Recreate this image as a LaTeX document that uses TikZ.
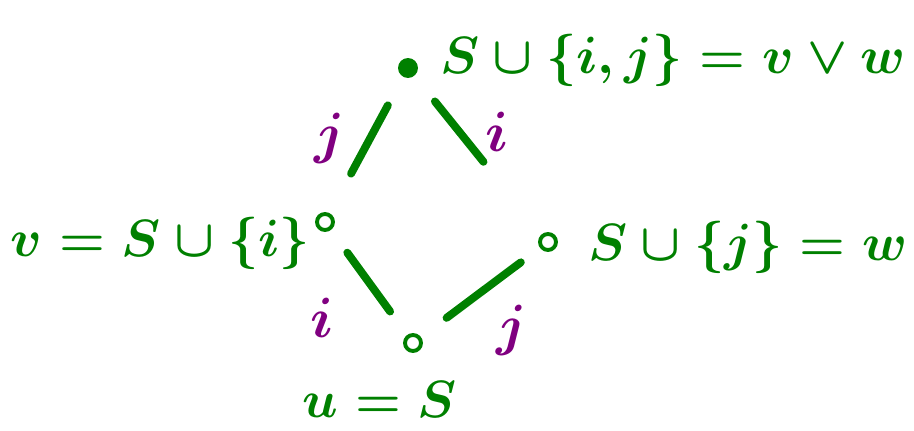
\documentclass[tikz,border=0pt]{standalone}
\usepackage{amsmath,amssymb}
\usepackage{graphicx}
\usepackage{tikz}
\definecolor{penGreen}{HTML}{008000}
\definecolor{penPurple}{HTML}{800080}
\newcommand{\penset}[1]{\scalebox{1.2}{$#1$}}
\newcommand{\penlab}[1]{\scalebox{1.3}{$#1$}}

\begin{document}
\begin{tikzpicture}[x=0.02cm,y=-0.02cm,
  pt/.style={draw=penGreen, line width=2.2pt, circle, inner sep=0pt, minimum size=3.2mm},
  ptf/.style={pt, fill=penGreen},
  set/.style={text=penGreen, font=\Huge\boldmath, inner sep=0pt},
  lab/.style={text=penPurple, font=\Huge\boldmath, inner sep=0pt},
  edge/.style={draw=penGreen, line width=4.5pt, line cap=round}]
\useasboundingbox (0,0) rectangle (914,431);
% the four sets
\node[ptf] (T) at (408,68)  {};
\node[pt]  (L) at (325,222) {};
\node[pt]  (R) at (548,242) {};
\node[pt]  (B) at (413,343) {};
% their names
\node[set, anchor=west] (TT) at (440,60)  {\penset{S\cup\{i,j\}=v\vee w}};
\node[set, anchor=east] (LT) at (310,243) {\penset{v=S\cup\{i\}}};
\node[set, anchor=west] (RT) at (588,247) {\penset{S\cup\{j\}=w}};
\node[set] (BT) at (380,400) {\penset{u=S}};
% covering relations
\draw[edge, shorten <=0.9cm, shorten >=0.65cm] (L) -- (T);
\draw[edge, shorten <=0.66cm, shorten >=1.86cm] (T) -- (R);
\draw[edge, shorten <=0.56cm, shorten >=0.58cm] (L) -- (B);
\draw[edge, shorten <=0.64cm, shorten >=0.48cm] (B) -- (R);
% which element is added
\node[lab] (j1) at (330,138) {\penlab{j}};
\node[lab] (i1) at (497,132) {\penlab{i}};
\node[lab] (i2) at (322,318) {\penlab{i}};
\node[lab] (j2) at (512,330) {\penlab{j}};
\end{tikzpicture}
\end{document}
